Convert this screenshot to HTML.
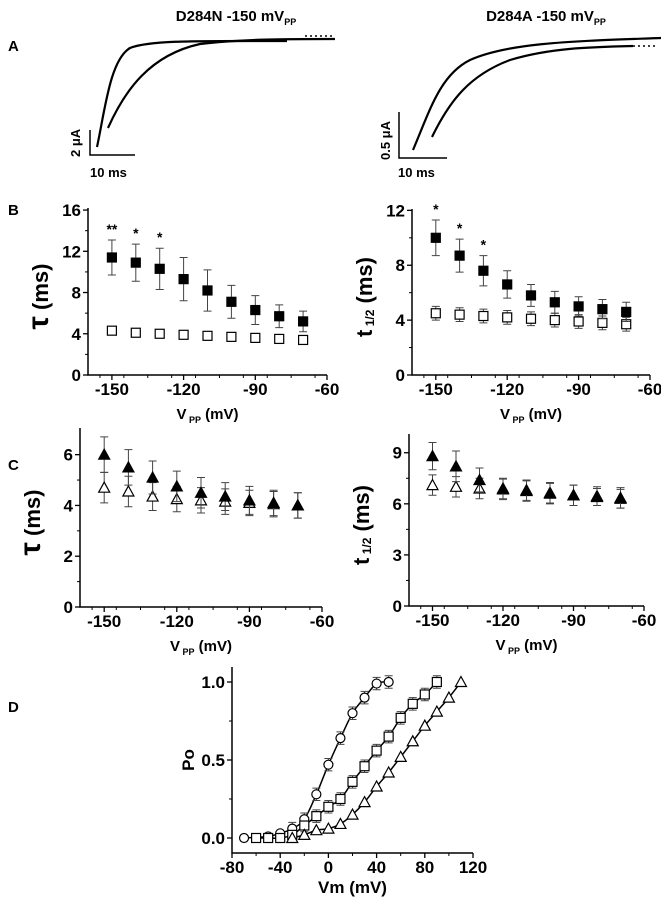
<!DOCTYPE html>
<html><head><meta charset="utf-8"><style>
body{margin:0;background:#fff;}
svg{display:block;font-family:"Liberation Sans",sans-serif;font-weight:bold;}
</style></head><body>
<svg id="fig" width="661" height="900" viewBox="0 0 661 900">
<g fill="none" stroke="#000">
<text x="236" y="21" text-anchor="middle" font-size="15" fill="#000" stroke="none">D284N -150 mV<tspan font-size="9" dy="4">PP</tspan></text>
<text x="546" y="21" text-anchor="middle" font-size="15" fill="#000" stroke="none">D284A -150 mV<tspan font-size="9" dy="4">PP</tspan></text>
<text x="8" y="51" font-size="15" fill="#000" stroke="none">A</text>
<path d="M97 147 C105 110,110 60,130 48 C150 40,200 41,287 41" stroke-width="2.2"/>
<path d="M108 128 C125 90,150 55,200 44 C240 39,290 39,335 39" stroke-width="2.2"/>
<path d="M305 36 L335 36" stroke-dasharray="2 3" stroke-width="1.5"/>
<path d="M90 130 L90 155 L135 155" stroke-width="1.5"/>
<text transform="translate(80,157) rotate(-90)" font-size="13" fill="#000" stroke="none">2 μA</text>
<text x="90" y="177" font-size="13" fill="#000" stroke="none">10 ms</text>
<path d="M413 150 C430 110,440 75,470 60 C510 42,580 41,661 38" stroke-width="2.2"/>
<path d="M432 137 C450 100,470 75,510 60 C550 48,590 47,633 46" stroke-width="2.2"/>
<path d="M633 46 L655 46" stroke-dasharray="2 3" stroke-width="1.5"/>
<path d="M399 112 L399 158 L447 158" stroke-width="1.5"/>
<text transform="translate(390,160) rotate(-90)" font-size="13" fill="#000" stroke="none">0.5 μA</text>
<text x="398" y="177" font-size="13" fill="#000" stroke="none">10 ms</text>
</g>
<g id="plots"></g>
</svg>
<script>
const vppCats=[-150,-140,-130,-120,-110,-100,-90,-80,-70];
const xTicksVpp=[-150,-120,-90,-60];
const bLeftFilled=[11.4,10.9,10.3,9.3,8.2,7.1,6.3,5.7,5.2];
const bLeftFilledErr=[1.7,1.8,2.0,2.1,2.0,1.6,1.4,1.1,1.0];
const bLeftOpen=[4.3,4.1,4.0,3.9,3.8,3.7,3.6,3.5,3.4];
const bLeftOpenErr=[0.3,0.2,0.3,0.3,0.3,0.3,0.3,0.3,0.4];
const bLeftTicks=[0,4,8,12,16];
const bRightFilled=[10.0,8.7,7.6,6.6,5.8,5.3,5.0,4.8,4.6];
const bRightFilledErr=[1.3,1.2,1.1,1.0,0.8,0.8,0.7,0.7,0.7];
const bRightOpen=[4.5,4.4,4.3,4.2,4.1,4.0,3.9,3.8,3.7];
const bRightOpenErr=[0.5,0.5,0.5,0.5,0.5,0.5,0.5,0.5,0.5];
const bRightTicks=[0,4,8,12];
const cLeftFilled=[6.0,5.5,5.1,4.75,4.5,4.35,4.2,4.1,4.0];
const cLeftFilledErr=[0.7,0.7,0.65,0.6,0.6,0.55,0.55,0.5,0.5];
const cLeftOpen=[4.7,4.55,4.35,4.25,4.2,4.15,4.1,4.05,4.0];
const cLeftOpenErr=[0.6,0.6,0.55,0.5,0.5,0.5,0.5,0.5,0.5];
const cLeftTicks=[0,2,4,6];
const cRightFilled=[8.8,8.2,7.4,6.9,6.8,6.6,6.5,6.4,6.35];
const cRightFilledErr=[0.8,0.9,0.7,0.6,0.6,0.6,0.6,0.5,0.6];
const cRightOpen=[7.1,7.0,6.9,6.85,6.75,6.65,6.5,6.45,6.3];
const cRightOpenErr=[0.6,0.6,0.6,0.6,0.6,0.6,0.6,0.55,0.55];
const cRightTicks=[0,3,6,9];
const dCircleV=[-70,-50,-40,-30,-20,-10,0,10,20,30,40,50];
const dCirclePo=[0,0.01,0.03,0.06,0.12,0.28,0.47,0.64,0.80,0.90,0.99,1.0];
const dSquareV=[-60,-50,-40,-30,-20,-10,0,10,20,30,40,50,60,70,80,90];
const dSquarePo=[0,0,0,0.02,0.08,0.14,0.20,0.25,0.36,0.46,0.56,0.65,0.77,0.86,0.92,1.0];
const dTriV=[-30,-20,-10,0,10,20,30,40,50,60,70,80,90,100,110];
const dTriPo=[0,0.02,0.05,0.06,0.09,0.15,0.23,0.33,0.42,0.52,0.62,0.72,0.81,0.90,1.0];
const dXTicks=[-80,-40,0,40,80,120];
const dYTicks=[0,0.5,1.0];
const dYTickLabels=["0.0","0.5","1.0"];

const NS="http://www.w3.org/2000/svg";
const root=document.getElementById('plots');
function mk(tag,attrs,parent){const e=document.createElementNS(NS,tag);for(const k in attrs)e.setAttribute(k,attrs[k]);(parent||root).appendChild(e);return e;}
function txt(s,attrs,parent){const e=mk('text',attrs,parent);e.textContent=s;return e;}
function scale(d0,d1,r0,r1){return v=>r0+(v-d0)*(r1-r0)/(d1-d0);}

function marker(g,shape,filled,x,y){
  const f=filled?'#000':'#fff';let m;
  if(shape==='sq'){m=mk('rect',{x:x-4.5,y:y-4.5,width:9,height:9,fill:f,stroke:'#000','stroke-width':1.2},g);}
  else if(shape==='tri'){m=mk('polygon',{points:`${x},${y-5.5} ${x-5.5},${y+4.5} ${x+5.5},${y+4.5}`,fill:f,stroke:'#000','stroke-width':1.2},g);}
  else {m=mk('circle',{cx:x,cy:y,r:4.5,fill:f,stroke:'#000','stroke-width':1.2},g);}
  return m;
}
function errbar(g,x,y0,y1){
  const e=mk('path',{d:`M${x} ${y0}V${y1}M${x-4} ${y0}h8M${x-4} ${y1}h8`,stroke:'#444','stroke-width':1,fill:'none'},g);
  
  
}

function vppPanel(o){
  const g=mk('g',{});
  
  
  const sx=scale(-160,-60,o.x0,o.x1), sy=scale(0,o.ymaxAx,o.y0,o.yTop);
  mk('path',{d:`M${o.x0} ${o.yTop}V${o.y0}H${o.x1}`,stroke:'#000','stroke-width':1.5,fill:'none'},g);
  o.yTicks.forEach(t=>{const y=sy(t);mk('path',{d:`M${o.x0-5} ${y}h5`,stroke:'#000','stroke-width':1.3},g);
    const l=txt(String(t),{x:o.x0-7,y:y+6,'text-anchor':'end','font-size':17},g);
    });
  for(let i=0;i<o.yTicks.length-1;i++){const y=sy((o.yTicks[i]+o.yTicks[i+1])/2);mk('path',{d:`M${o.x0-3} ${y}h3`,stroke:'#000'},g);}
  xTicksVpp.forEach(t=>{const x=sx(t);mk('path',{d:`M${x} ${o.y0}v5`,stroke:'#000','stroke-width':1.3},g);
    const l=txt(String(t),{x:x,y:o.y0+20,'text-anchor':'middle','font-size':17},g);
    });
  for(let v=-155;v<-60;v+=10){mk('path',{d:`M${sx(v)} ${o.y0}v3`,stroke:'#000'},g);}
  const xl=txt('',{x:(o.x0+o.x1)/2,y:o.y0+44,'text-anchor':'middle','font-size':15},g);
  xl.innerHTML='V<tspan font-size="9" dy="4"> PP</tspan><tspan dy="-4"> (mV)</tspan>';
  
  const yl=txt('',{transform:`translate(${o.x0-40},${(o.y0+o.yTop)/2+5}) rotate(-90)`,'text-anchor':'middle','font-size':22},g);
  yl.innerHTML=o.ylabel;
  
  [[o.open,o.openErr,false],[o.filled,o.filledErr,true]].forEach(([vals,errs,filled])=>{
    vals.forEach((v,i)=>{const x=sx(vppCats[i]);errbar(g,x,sy(v+errs[i]),sy(v-errs[i]));});
    vals.forEach((v,i)=>{const m=marker(g,o.shape,filled,sx(vppCats[i]),sy(v));
      
      });
  });
  (o.stars||[]).forEach((s,i)=>{const v=o.filled[i]+o.filledErr[i];
    const st=txt(s,{x:sx(vppCats[i]),y:sy(v)-6,'text-anchor':'middle','font-size':14},g);
    });
}

vppPanel({name:'panel-b-tau',x0:88,x1:327,y0:375,yTop:208,ymaxAx:16.2,yTicks:bLeftTicks,ylabel:'<tspan font-size="30">τ</tspan> (ms)',
  filled:bLeftFilled,filledErr:bLeftFilledErr,open:bLeftOpen,openErr:bLeftOpenErr,shape:'sq',stars:['**','*','*']});
vppPanel({name:'panel-b-thalf',x0:412,x1:650,y0:375,yTop:209,ymaxAx:12.1,yTicks:bRightTicks,ylabel:'t<tspan font-size="12" dy="2"> 1/2</tspan><tspan dy="-2"> (ms)</tspan>',
  filled:bRightFilled,filledErr:bRightFilledErr,open:bRightOpen,openErr:bRightOpenErr,shape:'sq',stars:['*','*','*']});
vppPanel({name:'panel-c-tau',x0:80,x1:322,y0:607,yTop:428,ymaxAx:7.05,yTicks:cLeftTicks,ylabel:'<tspan font-size="30">τ</tspan> (ms)',
  filled:cLeftFilled,filledErr:cLeftFilledErr,open:cLeftOpen,openErr:cLeftOpenErr,shape:'tri'});
vppPanel({name:'panel-c-thalf',x0:409,x1:644,y0:606,yTop:434,ymaxAx:10.1,yTicks:cRightTicks,ylabel:'t<tspan font-size="12" dy="2"> 1/2</tspan><tspan dy="-2"> (ms)</tspan>',
  filled:cRightFilled,filledErr:cRightFilledErr,open:cRightOpen,openErr:cRightOpenErr,shape:'tri'});

[['B',215],['C',470],['D',712]].forEach(([l,y])=>{const t=txt(l,{x:8,y:y,'font-size':15});
  });

// Panel D
(function(){
  const g=mk('g',{});
  
  
  const x0=232,x1=473,y0=853,yTop=667;
  const sx=scale(-80,120,x0,x1), sy=scale(0,1,838,682);
  mk('path',{d:`M${x0} ${yTop}V${y0}H${x1}`,stroke:'#000','stroke-width':1.5,fill:'none'},g);
  dYTicks.forEach((t,i)=>{const y=sy(t);mk('path',{d:`M${x0-5} ${y}h5`,stroke:'#000','stroke-width':1.3},g);
    const l=txt(dYTickLabels[i],{x:x0-7,y:y+6,'text-anchor':'end','font-size':17},g);
    });
  [0.25,0.75].forEach(t=>mk('path',{d:`M${x0-3} ${sy(t)}h3`,stroke:'#000'},g));
  dXTicks.forEach(t=>{const x=sx(t);mk('path',{d:`M${x} ${y0}v5`,stroke:'#000','stroke-width':1.3},g);
    const l=txt(String(t),{x:x,y:y0+20,'text-anchor':'middle','font-size':17},g);
    });
  for(let v=-60;v<120;v+=40)mk('path',{d:`M${sx(v)} ${y0}v3`,stroke:'#000'},g);
  const xl=txt('Vm (mV)',{x:(x0+x1)/2,y:893,'text-anchor':'middle','font-size':17},g);
  
  const yl=txt('Po',{transform:`translate(${x0-38},760) rotate(-90)`,'text-anchor':'middle','font-size':17},g);
  
  function curve(V,P,name){
    const pts=V.map((v,i)=>[sx(v),sy(P[i])]);
    let d=`M${pts[0][0]} ${pts[0][1]}`;
    for(let i=0;i<pts.length-1;i++){const p0=pts[Math.max(0,i-1)],p1=pts[i],p2=pts[i+1],p3=pts[Math.min(pts.length-1,i+2)];
      d+=` C${p1[0]+(p2[0]-p0[0])/6} ${p1[1]+(p2[1]-p0[1])/6},${p2[0]-(p3[0]-p1[0])/6} ${p2[1]-(p3[1]-p1[1])/6},${p2[0]} ${p2[1]}`;}
    const c=mk('path',{d:d,stroke:'#000','stroke-width':1.5,fill:'none'},g);
    
  }
  curve(dCircleV,dCirclePo,'fit-curve-circles');
  curve(dSquareV,dSquarePo,'fit-curve-squares');
  curve(dTriV,dTriPo,'fit-curve-triangles');
  dCircleV.forEach((v,i)=>{if(v>-40)errbar(g,sx(v),sy(dCirclePo[i]+0.04),sy(dCirclePo[i]-0.04));});
  dSquareV.forEach((v,i)=>{if(v>-30)errbar(g,sx(v),sy(dSquarePo[i]+0.04),sy(dSquarePo[i]-0.04));});
  dCircleV.forEach((v,i)=>{const m=marker(g,'ci',false,sx(v),sy(dCirclePo[i]));
    });
  dSquareV.forEach((v,i)=>{const m=marker(g,'sq',false,sx(v),sy(dSquarePo[i]));
    });
  dTriV.forEach((v,i)=>{const m=marker(g,'tri',false,sx(v),sy(dTriPo[i]));
    });
})();
</script>
</body></html>
